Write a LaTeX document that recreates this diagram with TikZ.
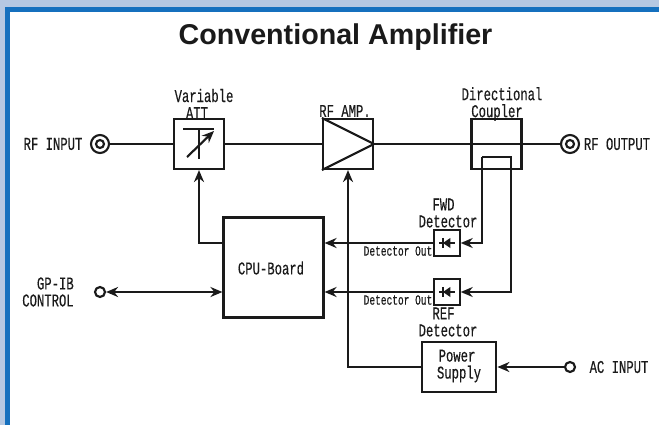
\documentclass[tikz,border=0pt]{standalone}
\usepackage{fontspec}
\setmainfont[FakeStretch=0.68,FakeBold=0.3]{Liberation Mono}
\newfontfamily\titlefont{Liberation Sans}
\usetikzlibrary{arrows.meta}
\definecolor{frameblue}{HTML}{1570BE}
\definecolor{paleblue}{HTML}{B5C8E2}
\definecolor{inkblack}{HTML}{1A1A1A}
\tikzset{
    block/.style={draw=inkblack, line width=1.6pt, fill=white, inner sep=0pt, align=center},
    label/.style={inner sep=0pt, align=center, text=inkblack, font=\fontsize{13.5}{12.75}\selectfont},
    smalllabel/.style={inner sep=0pt, text=inkblack, font=\fontsize{10.5}{12}\selectfont},
    wire/.style={draw=inkblack, line width=1.6pt},
    sig/.style={wire, -{Stealth[length=9pt,width=7.5pt]}},
    port/.style={circle, draw=inkblack, line width=1.6pt, fill=white, minimum size=7.5pt, inner sep=0pt},
    outerport/.style={port, minimum size=13.5pt}
}
\begin{document}
\begin{tikzpicture}[x=0.75pt, y=-0.75pt]
    \useasboundingbox (0,0) rectangle (659,425);
    % Background and frame
    \fill[paleblue] (0,0) rectangle (659,425);
    \fill[frameblue] (5,7) rectangle (659,425);
    \fill[white] (10,12) rectangle (659,425);

    \node[inner sep=0pt, text=inkblack, font=\titlefont\bfseries\fontsize{21.5}{24}\selectfont] (Title) at (335.5,37) {Conventional Amplifier};

    % Blocks
    \node[block, minimum width=37.5pt, minimum height=37.5pt] (VarAtt) at (199,144) {};
    \node[block, minimum width=37.5pt, minimum height=37.5pt] (RfAmp) at (348,144) {};
    \node[block, minimum width=37.5pt, minimum height=37.5pt] (Coupler) at (496.5,144) {};
    \node[block, minimum width=75pt, minimum height=75pt] (CpuBoard) at (273.5,267.5) {};
    \node[block, minimum width=19pt, minimum height=19pt] (FwdDet) at (447,243) {};
    \node[block, minimum width=19pt, minimum height=19pt] (RefDet) at (447,292) {};
    \node[block, minimum width=56pt, minimum height=37.5pt] (PowerSupply) at (459,367) {};

    % Ports
    \node[outerport] (RfIn) at (100,144) {};
    \node[port, minimum size=6pt] (RfInCore) at (100,144) {};
    \node[outerport] (RfOut) at (570,144) {};
    \node[port, minimum size=6pt] (RfOutCore) at (570,144) {};
    \node[port] (GpIb) at (100,292) {};
    \node[port] (AcIn) at (570,367) {};

    % Main line
    \draw[wire] (RfIn) -- (VarAtt);
    \draw[wire] (VarAtt) -- (RfAmp);
    \draw[wire] (RfAmp.east) -- (Coupler.west);
    \draw[wire] (Coupler.west) -- (Coupler.east);
    \draw[wire] (Coupler) -- (RfOut);

    % Amplifier triangle
    \draw[wire] (RfAmp.north west) -- (RfAmp.east) -- (RfAmp.south west);

    % Attenuator symbol
    \coordinate (AttBarL) at (183,129);
    \coordinate (AttBarR) at (214,129);
    \coordinate (AttStem) at (199,129);
    \coordinate (AttStemEnd) at (199,159);
    \coordinate (AttArrowA) at (187,157);
    \coordinate (AttArrowB) at (214,131);
    \draw[wire] (AttBarL) -- (AttBarR);
    \draw[wire] (AttStem) -- (AttStemEnd);
    \draw[sig] (AttArrowA) -- (AttArrowB);

    % CPU connections
    \draw[sig] (CpuBoard.west |- FwdDet) -| (VarAtt.south);
    \draw[sig] (FwdDet) -- (FwdDet -| CpuBoard.east);
    \draw[sig] (RefDet) -- (RefDet -| CpuBoard.east);
    \draw[wire, {Stealth[length=9pt,width=7.5pt]}-{Stealth[length=9pt,width=7.5pt]}] (GpIb) -- (GpIb -| CpuBoard.west);

    % Coupler loop to the detectors
    \coordinate (LoopA) at (482,157);
    \coordinate (LoopB) at (511,157);
    \draw[sig] (LoopA) -- (LoopB) -- (LoopB |- RefDet) -- (RefDet.east);
    \draw[sig] (LoopA) -- (LoopA |- FwdDet) -- (FwdDet.east);

    % Power
    \draw[sig] (AcIn) -- (PowerSupply.east);
    \draw[sig] (PowerSupply.west) -| (RfAmp.south);

    % Diode symbols
    \foreach \det in {FwdDet, RefDet} {
        \draw[inkblack, line width=1.5pt] ([xshift=-6pt]\det.center) -- ([xshift=6pt]\det.center);
        \fill[inkblack] ([xshift=-3pt]\det.center) -- ([xshift=2.5pt,yshift=3.8pt]\det.center) -- ([xshift=2.5pt,yshift=-3.8pt]\det.center) -- cycle;
        \draw[inkblack, line width=1.5pt] ([xshift=-3pt,yshift=3.8pt]\det.center) -- ([xshift=-3pt,yshift=-3.8pt]\det.center);
    }

    % Labels
    \node[label] (RfInLabel) at (53,144) {RF INPUT};
    \node[label] (RfOutLabel) at (617,144) {RF OUTPUT};
    \node[label, align=right] (GpIbLabel) at (48,292) {GP-IB\\CONTROL};
    \node[label] (AcInLabel) at (619,367) {AC INPUT};
    \node[label] (VarAttLabel) at (204,104) {Variable\\ATT\hspace*{10.5pt}};
    \node[label] (RfAmpLabel) at (345,111) {RF AMP.};
    \node[label] (CouplerLabel) at (502,104) {Directional\\Coupler\hspace*{7.5pt}};
    \node[label] (FwdLabel) at (448,213) {FWD\hspace*{6.75pt}\\Detector};
    \node[label] (RefLabel) at (448,322) {REF\hspace*{6.75pt}\\Detector};
    \node[label] (CpuLabel) at (271,268) {CPU-Board};
    \node[label] (PowerLabel) at (459,366) {Power\hspace*{3pt}\\Supply};
    \node[smalllabel] (FwdOut) at (398,251) {Detector Out};
    \node[smalllabel] (RefOut) at (398,300) {Detector Out};
\end{tikzpicture}
\end{document}
